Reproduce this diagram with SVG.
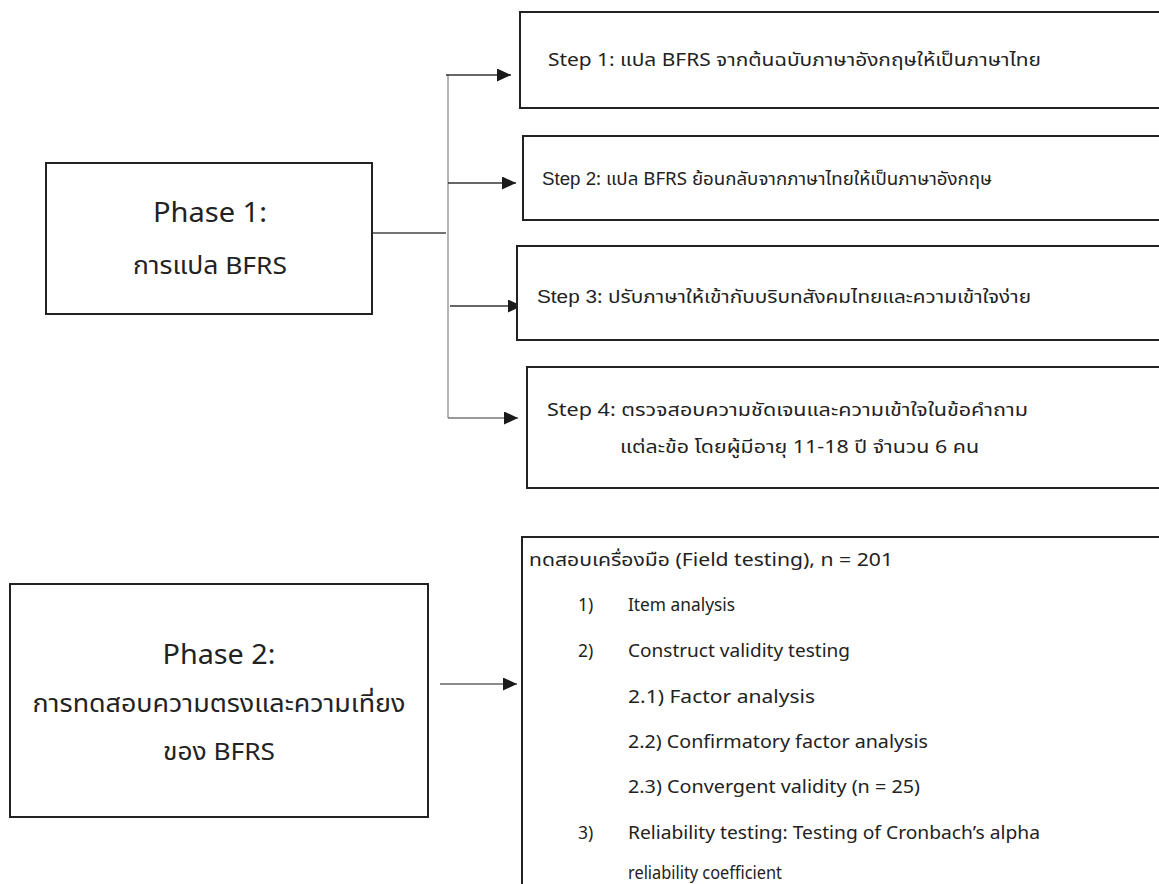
<svg xmlns="http://www.w3.org/2000/svg" width="1159" height="884" viewBox="0 0 1159 884">
  <style>
    .box { fill: #fff; stroke: #222; stroke-width: 2; }
    .t { font-family: "Noto Sans", "Noto Sans Thai", "Noto Sans Thai UI", sans-serif; fill: #222; }
    .ar { font-family: "Liberation Sans", Arial, sans-serif; }
    .ph { font-size: 28px; text-anchor: middle; }
    .pt { font-size: 24px; text-anchor: middle; }
    .st { font-size: 18px; }
    .bd { font-size: 17.5px; }
    .conn { fill: none; stroke-width: 1.5; }
  </style>
  <defs>
    <marker id="arrow" viewBox="0 0 14 13" refX="14" refY="6.5" markerWidth="14" markerHeight="13" markerUnits="userSpaceOnUse" orient="auto">
      <path d="M0,0 L14,6.5 L0,13 Z" fill="#1a1a1a"/>
    </marker>
  </defs>
  <rect width="1159" height="884" fill="#fff"/>

  <g id="connectors">
    <path class="conn" d="M373,233 H446" stroke="#444"/>
    <path class="conn" d="M448,75 V418" stroke="#9a9a9a"/>
    <path class="conn" d="M446,75 H511" stroke="#333" marker-end="url(#arrow)"/>
    <path class="conn" d="M448,183 H516" stroke="#333" marker-end="url(#arrow)"/>
    <path class="conn" d="M450,306 H522" stroke="#333" marker-end="url(#arrow)"/>
    <path class="conn" d="M448,418 H518" stroke="#777" marker-end="url(#arrow)"/>
    <path class="conn" d="M440,684 H517" stroke="#666" marker-end="url(#arrow)"/>
  </g>

  <g id="phase1">
    <rect class="box" x="46" y="163" width="326" height="151"/>
    <text class="t ph" x="210" y="222" textLength="114" lengthAdjust="spacingAndGlyphs">Phase 1:</text>
    <text class="t pt" x="210" y="274" textLength="154" lengthAdjust="spacingAndGlyphs">การแปล BFRS</text>
  </g>

  <g id="step1">
    <rect class="box" x="520" y="12" width="650" height="96"/>
    <text class="t st" x="548" y="66" textLength="493" lengthAdjust="spacingAndGlyphs">Step 1: แปล BFRS จากต้นฉบับภาษาอังกฤษให้เป็นภาษาไทย</text>
  </g>

  <g id="step2">
    <rect class="box" x="523" y="136" width="650" height="84"/>
    <text class="t st" x="542" y="185" textLength="450" lengthAdjust="spacingAndGlyphs"><tspan class="ar">Step 2</tspan>: แปล BFRS ย้อนกลับจากภาษาไทยให้เป็นภาษาอังกฤษ</text>
  </g>

  <g id="step3">
    <rect class="box" x="517" y="246" width="650" height="94"/>
    <text class="t st" x="537" y="303" textLength="494" lengthAdjust="spacingAndGlyphs"><tspan class="ar">Step 3</tspan>: ปรับภาษาให้เข้ากับบริบทสังคมไทยและความเข้าใจง่าย</text>
  </g>

  <g id="step4">
    <rect class="box" x="527" y="367" width="650" height="121"/>
    <text class="t st" x="547" y="416" textLength="481" lengthAdjust="spacingAndGlyphs">Step 4: ตรวจสอบความชัดเจนและความเข้าใจในข้อคำถาม</text>
    <text class="t st" x="620" y="453" textLength="359" lengthAdjust="spacingAndGlyphs">แต่ละข้อ โดยผู้มีอายุ 11-18 ปี จำนวน 6 คน</text>
  </g>

  <g id="phase2">
    <rect class="box" x="10" y="584" width="418" height="233"/>
    <text class="t ph" x="219" y="664" textLength="113" lengthAdjust="spacingAndGlyphs">Phase 2:</text>
    <text class="t pt" x="219" y="712" textLength="373" lengthAdjust="spacingAndGlyphs">การทดสอบความตรงและความเที่ยง</text>
    <text class="t pt" x="219" y="760" textLength="112" lengthAdjust="spacingAndGlyphs">ของ BFRS</text>
  </g>

  <g id="field-testing">
    <rect class="box" x="522" y="537" width="650" height="360"/>
    <text class="t bd" x="529" y="566" textLength="364" lengthAdjust="spacingAndGlyphs">ทดสอบเครื่องมือ (Field testing), n = 201</text>
    <text class="t bd" x="578" y="611">1)</text>
    <text class="t bd" x="628" y="611" textLength="107" lengthAdjust="spacingAndGlyphs">Item analysis</text>
    <text class="t bd" x="578" y="657">2)</text>
    <text class="t bd" x="628" y="657" textLength="222" lengthAdjust="spacingAndGlyphs">Construct validity testing</text>
    <text class="t bd" x="628" y="703" textLength="187" lengthAdjust="spacingAndGlyphs">2.1) Factor analysis</text>
    <text class="t bd" x="628" y="748" textLength="300" lengthAdjust="spacingAndGlyphs">2.2) Confirmatory factor analysis</text>
    <text class="t bd" x="628" y="793" textLength="292" lengthAdjust="spacingAndGlyphs">2.3) Convergent validity (n = 25)</text>
    <text class="t bd" x="578" y="839">3)</text>
    <text class="t bd" x="628" y="839" textLength="412" lengthAdjust="spacingAndGlyphs">Reliability testing: Testing of Cronbach’s alpha</text>
    <text class="t bd" x="628" y="879" textLength="154" lengthAdjust="spacingAndGlyphs">reliability coefficient</text>
  </g>
</svg>
